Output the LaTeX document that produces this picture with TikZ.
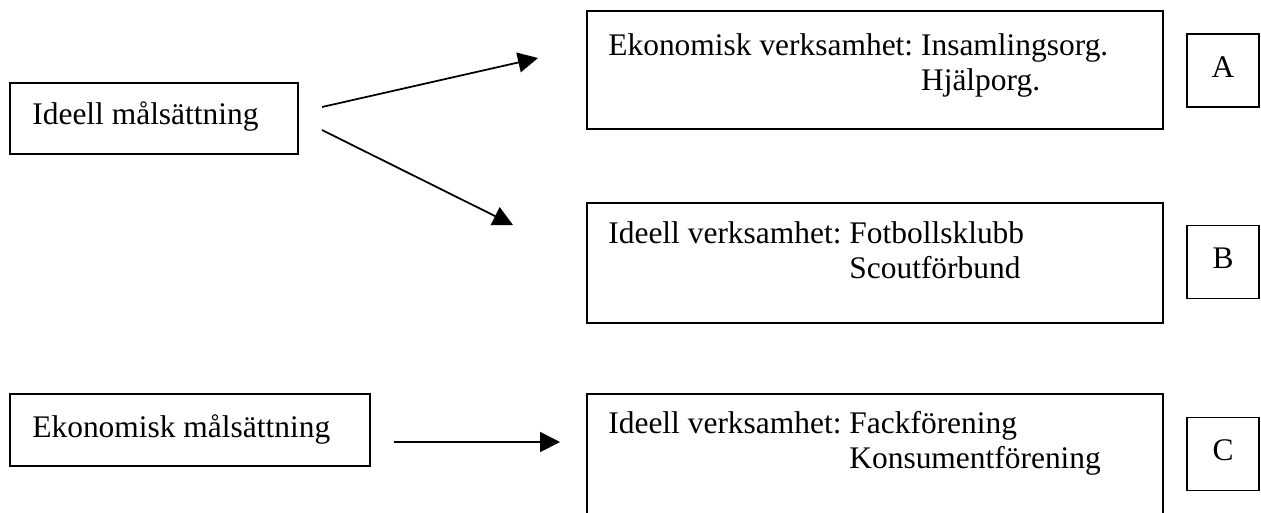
\documentclass[tikz,border=0pt]{standalone}
\usepackage{fontspec}
\setmainfont{Liberation Serif}
\usetikzlibrary{arrows.meta}

\begin{document}
\begin{tikzpicture}[x=0.02cm,y=-0.02cm,
  box/.style={draw,line width=1pt,rectangle,inner sep=0pt},
  txt/.style={anchor=base west,inner sep=0pt,font=\fontsize{17.9}{20}\selectfont},
  arr/.style={line width=1pt,-{Triangle[length=0.4cm,width=0.4cm]}}]
\useasboundingbox (0,0) rectangle (1261,512);
% left boxes
\node[box,minimum width=5.76cm,minimum height=1.42cm] (ideell) at (154,118.5) {};
\node[box,minimum width=7.2cm,minimum height=1.44cm] (ekonom) at (190,430) {};
\node[txt] (ideelltxt) at (32,124) {Ideell målsättning};
\node[txt] (ekonomtxt) at (32,437) {Ekonomisk målsättning};
% right boxes
\node[box,minimum width=11.52cm,minimum height=2.36cm] (verkA) at (875,70) {};
\node[box,minimum width=11.52cm,minimum height=2.4cm] (verkB) at (875,263) {};
\node[box,minimum width=11.52cm,minimum height=2.4cm] (verkC) at (875,454) {};
\node[txt] (verkAtxt) at (608,55) {\begin{tabular}[t]{@{}l@{\ }l@{}}Ekonomisk verksamhet: & Insamlingsorg.\\ & Hjälporg.\end{tabular}};
\node[txt] (verkBtxt) at (608,243) {\begin{tabular}[t]{@{}l@{\ }l@{}}Ideell verksamhet: & Fotbollsklubb\\ & Scoutförbund\end{tabular}};
\node[txt] (verkCtxt) at (608,433) {\begin{tabular}[t]{@{}l@{\ }l@{}}Ideell verksamhet: & Fackförening\\ & Konsumentförening\end{tabular}};
% letters
\foreach \l/\y in {A/70.5,B/262,C/454}{
\node[box,minimum width=1.44cm,minimum height=1.46cm,text depth=0.4em,
  font=\fontsize{17.9}{20}\selectfont] (let\l) at (1223,\y) {\l};
}
% arrows
\coordinate (s1) at (322,107);
\coordinate (t1) at (538,58);
\coordinate (s2) at (322,130);
\coordinate (t2) at (513,225);
\coordinate (s3) at (394,442);
\coordinate (t3) at (560,442);
\draw[arr] (s1) -- (t1);
\draw[arr] (s2) -- (t2);
\draw[arr] (s3) -- (t3);
\end{tikzpicture}
\end{document}
